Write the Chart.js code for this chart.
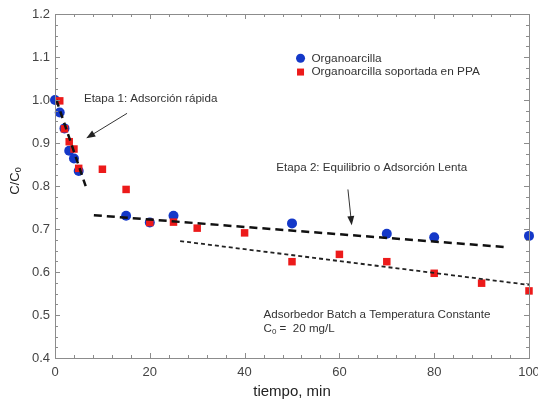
<!DOCTYPE html>
<html>
<head>
<meta charset="utf-8">
<script src="https://cdn.jsdelivr.net/npm/chart.js@4.4.1/dist/chart.umd.min.js"></script>
<style>
  html, body { margin: 0; padding: 0; background: #fff; }
  #wrap { width: 538px; height: 400px; }
</style>
</head>
<body>
<div id="wrap"><canvas id="grafico"></canvas></div>
<script>
// Datos
const tiempoOrg = [0, 1, 2, 3, 4, 5, 15, 20, 25, 50, 70, 80, 100];
const cOrg = [1.0, 0.971, 0.934, 0.882, 0.864, 0.835, 0.731, 0.715, 0.731, 0.713, 0.689, 0.681, 0.684];

const tiempoPPA = [1, 2, 3, 4, 5, 10, 15, 20, 25, 30, 40, 50, 60, 70, 80, 90, 100];
const cPPA = [0.998, 0.933, 0.903, 0.886, 0.841, 0.839, 0.792, 0.715, 0.716, 0.702, 0.691, 0.624, 0.641, 0.624, 0.597, 0.574, 0.556];

// rectas de ajuste (extremos)
const etapa1X = [0.3, 6.8];
const etapa1Y = [1.0, 0.789];
const etapa2X = [8.2, 95];
const etapa2Y = [0.732, 0.658];
const ppaX = [26.4, 100];
const ppaY = [0.672, 0.570];

const ticksX = [0, 20, 40, 60, 80, 100];
const ticksY = [0.4, 0.5, 0.6, 0.7, 0.8, 0.9, 1.0, 1.1, 1.2];

const serieNombres = ["Organoarcilla", "Organoarcilla soportada en PPA"];

const fuente = "'Liberation Sans', Arial, sans-serif";
const azul = "#1438c8";
const rojo = "#ec1a1a";

function puntos(xs, ys) {
  return xs.map((x, i) => ({ x: x, y: ys[i] }));
}

// anotaciones (en unidades de los ejes)
const textos = [
  { t: "Etapa 1: Adsorción rápida", x: 6.1, y: 1.002 },
  { t: "Etapa 2: Equilibrio o Adsorción Lenta", x: 46.7, y: 0.843 },
  { t: "Adsorbedor Batch a Temperatura Constante", x: 44.0, y: 0.5 },
];
const flechas = [
  { x0: 15.2, y0: 0.969, x1: 6.6, y1: 0.911 },
  { x0: 61.8, y0: 0.792, x1: 62.6, y1: 0.709 },
];

function flecha(ctx, x0, y0, x1, y1) {
  const ang = Math.atan2(y1 - y0, x1 - x0);
  const largo = 9, ancho = 3.5;
  ctx.beginPath();
  ctx.moveTo(x0, y0);
  ctx.lineTo(x1 - Math.cos(ang) * largo * 0.7, y1 - Math.sin(ang) * largo * 0.7);
  ctx.stroke();
  ctx.beginPath();
  ctx.moveTo(x1, y1);
  ctx.lineTo(x1 - Math.cos(ang) * largo - Math.sin(ang) * ancho, y1 - Math.sin(ang) * largo + Math.cos(ang) * ancho);
  ctx.lineTo(x1 - Math.cos(ang) * largo + Math.sin(ang) * ancho, y1 - Math.sin(ang) * largo - Math.cos(ang) * ancho);
  ctx.closePath();
  ctx.fill();
}

const marco = {
  id: "marco",
  afterDraw(chart) {
    const ctx = chart.ctx;
    const a = chart.chartArea;
    const sx = chart.scales.x;
    const sy = chart.scales.y;
    ctx.save();
    // marco y marcas hacia dentro
    ctx.strokeStyle = "#8c8c8c";
    ctx.lineWidth = 1;
    ctx.strokeRect(a.left + 0.5, a.top + 0.5, a.right - a.left, a.bottom - a.top);
    ctx.beginPath();
    for (let v = 0; v <= 100; v += 4) {
      const px = Math.round(sx.getPixelForValue(v)) + 0.5;
      const l = v % 20 === 0 ? 5 : 3;
      ctx.moveTo(px, a.bottom); ctx.lineTo(px, a.bottom - l);
      ctx.moveTo(px, a.top); ctx.lineTo(px, a.top + l);
    }
    for (let i = 0; i <= 32; i++) {
      const py = Math.round(sy.getPixelForValue(0.4 + i * 0.025)) + 0.5;
      const l = i % 4 === 0 ? 5 : 3;
      ctx.moveTo(a.left, py); ctx.lineTo(a.left + l, py);
      ctx.moveTo(a.right, py); ctx.lineTo(a.right - l, py);
    }
    ctx.stroke();

    // textos
    ctx.fillStyle = "#333";
    ctx.font = "11.6px " + fuente;
    ctx.textBaseline = "middle";
    ctx.textAlign = "left";
    textos.forEach(tx => {
      ctx.fillText(tx.t, sx.getPixelForValue(tx.x), sy.getPixelForValue(tx.y));
    });
    // C0 = 20 mg/L
    const cx = sx.getPixelForValue(44.0);
    const cy = sy.getPixelForValue(0.5) + 14;
    ctx.fillText("C", cx, cy);
    const wc = ctx.measureText("C").width;
    ctx.font = "8px " + fuente;
    ctx.fillText("0", cx + wc, cy + 3);
    const w0 = ctx.measureText("0").width;
    ctx.font = "11.6px " + fuente;
    ctx.fillText(" =  20 mg/L", cx + wc + w0, cy);

    // leyenda
    ctx.font = "11.8px " + fuente;
    const lx = sx.getPixelForValue(51.8);
    const ly1 = sy.getPixelForValue(1.097);
    const ly2 = sy.getPixelForValue(1.065);
    ctx.fillStyle = azul;
    ctx.beginPath();
    ctx.arc(lx, ly1, 4.5, 0, Math.PI * 2);
    ctx.fill();
    ctx.fillStyle = rojo;
    ctx.fillRect(lx - 3.5, ly2 - 3.5, 7, 7);
    ctx.fillStyle = "#333";
    ctx.fillText(serieNombres[0], sx.getPixelForValue(54.1), ly1);
    ctx.fillText(serieNombres[1], sx.getPixelForValue(54.1), ly2);

    // flechas
    ctx.strokeStyle = "#333";
    ctx.fillStyle = "#222";
    ctx.lineWidth = 1;
    flechas.forEach(f => {
      flecha(ctx, sx.getPixelForValue(f.x0), sy.getPixelForValue(f.y0),
        sx.getPixelForValue(f.x1), sy.getPixelForValue(f.y1));
    });

    // títulos de ejes
    ctx.fillStyle = "#222";
    ctx.font = "15px " + fuente;
    ctx.textAlign = "center";
    ctx.textBaseline = "middle";
    ctx.fillText("tiempo, min", (a.left + a.right) / 2, 392);

    ctx.translate(15, 181);
    ctx.rotate(-Math.PI / 2);
    ctx.textAlign = "left";
    ctx.font = "13px " + fuente;
    const w1 = ctx.measureText("C/C").width;
    ctx.font = "9px " + fuente;
    const w2 = ctx.measureText("0").width;
    const ini = -(w1 + w2) / 2;
    ctx.font = "13px " + fuente;
    ctx.fillText("C/C", ini, 0);
    ctx.font = "9px " + fuente;
    ctx.fillText("0", ini + w1, 4);
    ctx.restore();
  }
};

const ctxG = document.getElementById("grafico").getContext("2d");
const grafico = new Chart(ctxG, {
  type: "scatter",
  data: {
    datasets: [
      {
        label: "etapa1",
        data: puntos(etapa1X, etapa1Y),
        showLine: true,
        borderColor: "#111",
        borderWidth: 2.5,
        borderDash: [7, 5],
        pointRadius: 0,
        order: 0,
      },
      {
        label: "etapa2",
        data: puntos(etapa2X, etapa2Y),
        showLine: true,
        borderColor: "#111",
        borderWidth: 2.5,
        borderDash: [8, 5],
        pointRadius: 0,
        order: 0,
      },
      {
        label: "ppa",
        data: puntos(ppaX, ppaY),
        showLine: true,
        borderColor: "#222",
        borderWidth: 1.8,
        borderDash: [4, 3],
        pointRadius: 0,
        order: 0,
      },
      {
        label: serieNombres[1],
        data: puntos(tiempoPPA, cPPA),
        pointStyle: "rect",
        pointRadius: 5.3,
        backgroundColor: rojo,
        borderColor: rojo,
        borderWidth: 0,
        clip: false,
        order: 1,
      },
      {
        label: serieNombres[0],
        data: puntos(tiempoOrg, cOrg),
        pointStyle: "circle",
        pointRadius: 5,
        backgroundColor: azul,
        borderColor: azul,
        borderWidth: 0,
        clip: false,
        order: 2,
      },
    ],
  },
  options: {
    responsive: true,
    maintainAspectRatio: false,
    animation: false,
    layout: { padding: { top: 14, right: 9, left: 0, bottom: 0 } },
    plugins: {
      legend: { display: false },
      tooltip: { enabled: false },
    },
    scales: {
      x: {
        type: "linear",
        min: 0,
        max: 100,
        afterBuildTicks: (s) => { s.ticks = ticksX.map(v => ({ value: v })); },
        afterFit: (s) => { s.height = 42; s.paddingLeft = 0; s.paddingRight = 0; },
        ticks: { color: "#444", font: { size: 13, family: fuente }, padding: 7, maxRotation: 0 },
        grid: { display: false, drawTicks: false },
        border: { display: false },
      },
      y: {
        type: "linear",
        min: 0.4,
        max: 1.2,
        afterBuildTicks: (s) => { s.ticks = ticksY.map(v => ({ value: v })); },
        afterFit: (s) => { s.width = 55; s.paddingTop = 0; s.paddingBottom = 0; },
        ticks: {
          color: "#444",
          font: { size: 13, family: fuente },
          padding: 5,
          callback: (v) => Number(v).toFixed(1),
        },
        grid: { display: false, drawTicks: false },
        border: { display: false },
      },
    },
  },
  plugins: [marco],
});
</script>
</body>
</html>
